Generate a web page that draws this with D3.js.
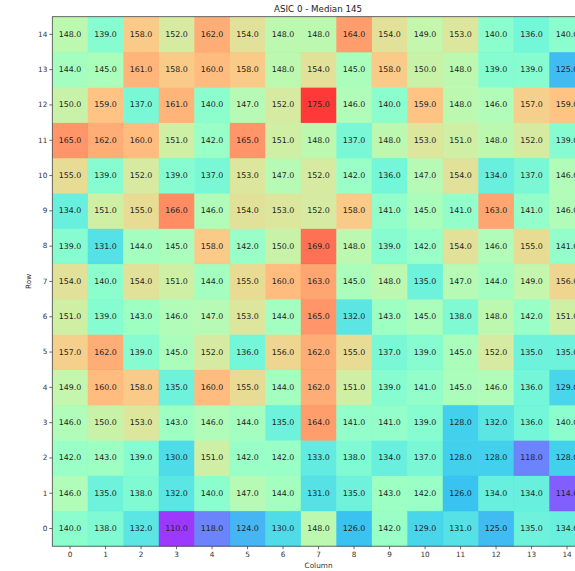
<!DOCTYPE html>
<html>
<head>
<meta charset="utf-8">
<script src="https://cdn.jsdelivr.net/npm/d3@7"></script>
<style>
  html, body { margin: 0; padding: 0; background: #fff; }
  svg { display: block; font-family: "DejaVu Sans", sans-serif; }
</style>
</head>
<body>
<svg id="chart" width="575" height="571"></svg>
<script>
// Chip measurement grid: one array per row (row 0 at the bottom)
const title = "ASIC 0 - Median 145";
const columns = d3.range(15);
const rows = d3.range(15);
const row0  = [140,138,132,110,118,124,130,148,126,142,129,131,125,135,134];
const row1  = [146,135,138,132,140,147,144,131,135,143,142,126,134,134,114];
const row2  = [142,143,139,130,151,142,142,133,138,134,137,128,128,118,128];
const row3  = [146,150,153,143,146,144,135,164,141,141,139,128,132,136,140];
const row4  = [149,160,158,135,160,155,144,162,151,139,141,145,146,136,129];
const row5  = [157,162,139,145,152,136,156,162,155,137,139,145,152,135,135];
const row6  = [151,139,143,146,147,153,144,165,132,143,145,138,148,142,151];
const row7  = [154,140,154,151,144,155,160,163,145,148,135,147,144,149,156];
const row8  = [139,131,144,145,158,142,150,169,148,139,142,154,146,155,141];
const row9  = [134,151,155,166,146,154,153,152,158,141,145,141,163,141,146];
const row10 = [155,139,152,139,137,153,147,152,142,136,147,154,134,137,146];
const row11 = [165,162,160,151,142,165,151,148,137,148,153,151,148,152,139];
const row12 = [150,159,137,161,140,147,152,175,146,140,159,148,146,157,159];
const row13 = [144,145,161,158,160,158,148,154,145,158,150,148,139,139,125];
const row14 = [148,139,158,152,162,154,148,148,164,154,149,153,140,136,140];
const grid = [row0,row1,row2,row3,row4,row5,row6,row7,row8,row9,row10,row11,row12,row13,row14];

const cells = [];
grid.forEach((vals, r) => vals.forEach((v, c) => cells.push({ row: r, col: c, value: v })));

const svg = d3.select("#chart");
const mLeft = 52.3, mTop = 16.7, cw = 35.5, ch = 35.3;
const mRight = mLeft + cw * columns.length, mBottom = mTop + ch * rows.length;

const x = d3.scaleBand().domain(columns).range([mLeft, mRight]).padding(0);
const y = d3.scaleBand().domain(rows.slice().reverse()).range([mTop, mBottom]).padding(0);

// "rainbow" palette (purple -> blue -> green -> yellow -> red)
function rainbow(t) {
  const r = Math.min(1, Math.max(0, Math.abs(2 * t - 0.5)));
  const g = Math.min(1, Math.max(0, Math.sin(Math.PI * t)));
  const b = Math.min(1, Math.max(0, Math.cos(Math.PI * t / 2)));
  return d3.rgb(r * 255, g * 255, b * 255);
}
const allVals = cells.map(d => d.value);
const norm = d3.scaleLinear().domain(d3.extent(allVals)).range([0, 1]).clamp(true);

const plot = svg.append("g");
plot.selectAll("rect.cell")
  .data(cells)
  .join("rect")
  .attr("class", "cell")
  .attr("x", d => x(d.col))
  .attr("y", d => y(d.row))
  .attr("width", x.bandwidth() + 0.3)
  .attr("height", y.bandwidth() + 0.3)
  .attr("fill", d => rainbow(norm(d.value)))
  .attr("fill-opacity", 0.78);

plot.selectAll("text.val")
  .data(cells)
  .join("text")
  .attr("class", "val")
  .attr("x", d => x(d.col) + x.bandwidth() / 2)
  .attr("y", d => y(d.row) + y.bandwidth() / 2)
  .attr("text-anchor", "middle")
  .attr("dominant-baseline", "central")
  .attr("font-size", 7.9)
  .attr("fill", "#222")
  .text(d => d.value.toFixed(1));

// frame
svg.append("rect")
  .attr("x", mLeft).attr("y", mTop)
  .attr("width", mRight - mLeft).attr("height", mBottom - mTop)
  .attr("fill", "none").attr("stroke", "#444").attr("stroke-width", 0.8);

// axes
const xAxis = svg.append("g")
  .attr("transform", `translate(0,${mBottom})`)
  .call(d3.axisBottom(x).tickSize(3).tickPadding(2.5));
const yAxis = svg.append("g")
  .attr("transform", `translate(${mLeft},0)`)
  .call(d3.axisLeft(y).tickSize(3).tickPadding(2));
[xAxis, yAxis].forEach(a => {
  a.select(".domain").remove();
  a.selectAll("line").attr("stroke", "#444").attr("stroke-width", 0.8);
  a.selectAll("text").attr("font-size", 7.3).attr("fill", "#333").attr("font-family", "DejaVu Sans, sans-serif");
});

svg.append("text")
  .attr("x", (mLeft + mRight) / 2 - 0.5)
  .attr("y", 12)
  .attr("text-anchor", "middle")
  .attr("font-size", 8.7)
  .attr("fill", "#222")
  .text(title);

svg.append("text")
  .attr("x", (mLeft + mRight) / 2)
  .attr("y", 568)
  .attr("text-anchor", "middle")
  .attr("font-size", 7.3)
  .attr("fill", "#333")
  .text("Column");

svg.append("text")
  .attr("transform", `translate(31,${(mTop + mBottom) / 2}) rotate(-90)`)
  .attr("text-anchor", "middle")
  .attr("font-size", 7.3)
  .attr("fill", "#333")
  .text("Row");
</script>
</body>
</html>
